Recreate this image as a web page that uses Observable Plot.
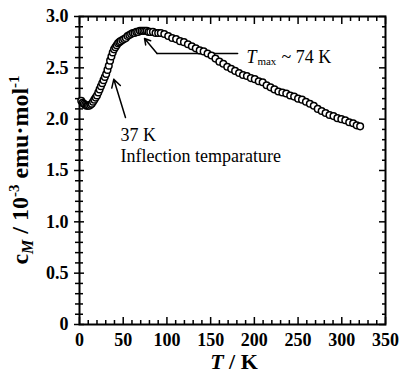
<!DOCTYPE html>
<html>
<head>
<meta charset="utf-8">
<script src="https://cdn.jsdelivr.net/npm/d3@7"></script>
<script src="https://cdn.jsdelivr.net/npm/@observablehq/plot@0.6"></script>
<style>
  html, body { margin: 0; padding: 0; background: #fff; }
  #chart svg { display: block; }
  #chart svg, #chart svg text { font-family: "Liberation Serif", Tinos, "DejaVu Serif", serif !important; }
</style>
</head>
<body>
<div id="chart"></div>
<script>
// ---- Data ----
const temperatureK = [
  2, 3.5, 5, 6.5, 8, 9.5, 11, 12.5, 14, 15.5, 17, 18.5, 20, 21.5, 23, 24.5, 26, 27.5, 29, 30.5,
  32, 33.5, 35, 36.5, 38, 39.5, 41, 42.5, 44, 45.5, 47, 49, 51, 53, 55, 57, 59, 61, 63, 65,
  67, 69, 71, 73, 75, 77, 79, 81, 84, 87, 90,
  93, 97, 101.5, 106, 110.5, 115, 119.5, 124, 128.5, 133, 137.5, 142, 146.5, 151, 155.5, 160,
  164.5, 169, 173.5, 178, 182.5, 187, 191.5, 196, 200.5, 205, 209.5, 214, 218.5, 223, 227.5,
  232, 236.5, 241, 245.5, 250, 254.5, 259, 263.5, 268, 272.5, 277, 281.5, 286, 290.5, 295,
  299.5, 304, 308.5, 313, 317, 321
];
const chiM = [
  2.18, 2.16, 2.15, 2.14, 2.13, 2.13, 2.13, 2.14, 2.15, 2.17, 2.19, 2.21, 2.23, 2.26, 2.29, 2.32, 2.35, 2.38, 2.41, 2.44,
  2.48, 2.52, 2.57, 2.61, 2.65, 2.68, 2.70, 2.72, 2.74, 2.75, 2.76, 2.77, 2.78, 2.79, 2.81, 2.82, 2.83, 2.84, 2.84, 2.85,
  2.85, 2.86, 2.86, 2.86, 2.86, 2.86, 2.85, 2.85, 2.85, 2.84, 2.84,
  2.84, 2.83, 2.81, 2.79, 2.78, 2.76, 2.75, 2.73, 2.71, 2.69, 2.67, 2.66, 2.64, 2.62, 2.59, 2.56,
  2.54, 2.51, 2.49, 2.47, 2.45, 2.43, 2.42, 2.40, 2.39, 2.37, 2.36, 2.33, 2.31, 2.29, 2.27,
  2.26, 2.25, 2.23, 2.22, 2.20, 2.19, 2.17, 2.15, 2.13, 2.10, 2.08, 2.06, 2.04, 2.03, 2.01,
  2.00, 1.99, 1.97, 1.96, 1.94, 1.93
];

const xMajorTicks = [0, 50, 100, 150, 200, 250, 300, 350];
const xMinorTicks = [10, 20, 30, 40, 60, 70, 80, 90, 110, 120, 130, 140, 160, 170, 180, 190,
                     210, 220, 230, 240, 260, 270, 280, 290, 310, 320, 330, 340];
const yMajorTicks = [0, 0.5, 1.0, 1.5, 2.0, 2.5, 3.0];
const yTickLabels = ["0", "0.5", "1.0", "1.5", "2.0", "2.5", "3.0"];
const yMinorTicks = [0.1, 0.2, 0.3, 0.4, 0.6, 0.7, 0.8, 0.9, 1.1, 1.2, 1.3, 1.4, 1.6, 1.7, 1.8, 1.9,
                     2.1, 2.2, 2.3, 2.4, 2.6, 2.7, 2.8, 2.9];

// Annotations (data coordinates)
const tmaxLeaderT = [180.8, 88.7];
const tmaxLeaderChi = [2.64, 2.64];
const tmaxArrowT = [88.7, 74.4];
const tmaxArrowChi = [2.64, 2.785];
const inflectionArrowT = [52.6, 39.2];
const inflectionArrowChi = [2.016, 2.388];
const inflectionLabels = ["37 K", "Inflection temparature"];
const inflectionLabelT = [46.9, 46.9];
const inflectionLabelChi = [1.79, 1.585];
const tmaxLabelT = [191, 203.5, 231];
const tmaxLabelChi = [2.551, 2.53, 2.551];

// ---- Build tables ----
const points = temperatureK.map((t, i) => ({T: t, chi: chiM[i]}));
const leader = tmaxLeaderT.map((t, i) => ({T: t, chi: tmaxLeaderChi[i]}));
const arrows = [
  {x1: tmaxArrowT[0], y1: tmaxArrowChi[0], x2: tmaxArrowT[1], y2: tmaxArrowChi[1]},
  {x1: inflectionArrowT[0], y1: inflectionArrowChi[0], x2: inflectionArrowT[1], y2: inflectionArrowChi[1]}
];
const inflText = inflectionLabels.map((s, i) => ({s, T: inflectionLabelT[i], chi: inflectionLabelChi[i]}));

const serif = "Liberation Serif";
const tickLabelFmt = d => yTickLabels[yMajorTicks.indexOf(d)];

const chart = Plot.plot({
  width: 399,
  height: 374,
  marginLeft: 79,
  marginRight: 14,
  marginTop: 16,
  marginBottom: 50,
  style: {fontFamily: serif, background: "white", color: "black", overflow: "visible"},
  x: {domain: [0, 350], label: null},
  y: {domain: [0, 3], label: null},
  marks: [
    // tick labels
    Plot.axisX({ticks: xMajorTicks, tickSize: 0, tickPadding: 9, fontSize: 18, fontWeight: "bold", fontFamily: serif, tickFormat: d => String(d)}),
    Plot.axisY({ticks: yMajorTicks, tickSize: 0, tickPadding: 11, fontSize: 18, fontWeight: "bold", fontFamily: serif, tickFormat: tickLabelFmt}),
    // bottom ticks (inward)
    Plot.axisX({ticks: xMajorTicks, tickSize: -7, fill: "none", strokeWidth: 1.5}),
    Plot.axisX({ticks: xMinorTicks, tickSize: -4, fill: "none", strokeWidth: 1.5}),
    // top ticks (inward)
    Plot.axisX({anchor: "top", ticks: xMajorTicks, tickSize: -7, fill: "none", strokeWidth: 1.5}),
    Plot.axisX({anchor: "top", ticks: xMinorTicks, tickSize: -4, fill: "none", strokeWidth: 1.5}),
    // left ticks (crossing)
    Plot.axisY({ticks: yMajorTicks, tickSize: 5, fill: "none", strokeWidth: 1.5}),
    Plot.axisY({ticks: yMajorTicks, tickSize: -5, fill: "none", strokeWidth: 1.5}),
    Plot.axisY({ticks: yMinorTicks, tickSize: 4, fill: "none", strokeWidth: 1.5}),
    Plot.axisY({ticks: yMinorTicks, tickSize: -4, fill: "none", strokeWidth: 1.5}),
    // right ticks (inward)
    Plot.axisY({anchor: "right", ticks: yMajorTicks, tickSize: -7, fill: "none", strokeWidth: 1.5}),
    Plot.axisY({anchor: "right", ticks: yMinorTicks, tickSize: -4, fill: "none", strokeWidth: 1.5}),
    Plot.frame({stroke: "black", strokeWidth: 2}),
    // annotation leader lines
    Plot.line(leader, {x: "T", y: "chi", stroke: "black", strokeWidth: 1.6}),
    Plot.arrow(arrows, {x1: "x1", y1: "y1", x2: "x2", y2: "y2", stroke: "black", strokeWidth: 1.5, headLength: 9}),
    // data
    Plot.dot(points, {x: "T", y: "chi", r: 3.3, stroke: "black", strokeWidth: 1.5, fill: "white"}),
    // annotation text
    Plot.text(inflText, {x: "T", y: "chi", text: "s", textAnchor: "start", lineAnchor: "bottom", fontSize: 18, fontFamily: serif, fill: "black"}),
    Plot.text(["T"], {x: tmaxLabelT[0], y: tmaxLabelChi[0], text: d => d, textAnchor: "start", lineAnchor: "bottom", fontSize: 18, fontStyle: "italic", fontFamily: serif, fill: "black"}),
    Plot.text(["max"], {x: tmaxLabelT[1], y: tmaxLabelChi[1], text: d => d, textAnchor: "start", lineAnchor: "bottom", fontSize: 11, fontFamily: serif, fill: "black"}),
    Plot.text(["~ 74 K"], {x: tmaxLabelT[2], y: tmaxLabelChi[2], text: d => d, textAnchor: "start", lineAnchor: "bottom", fontSize: 18, fontFamily: serif, fill: "black"})
  ]
});

// Axis titles with italics / sub- and superscripts
const svg = d3.select(chart);
const yTitle = svg.append("text")
  .attr("transform", "translate(28,170) rotate(-90)")
  .attr("text-anchor", "middle")
  .style("font-family", serif)
  .attr("font-weight", "bold")
  .attr("font-size", 24)
  .attr("fill", "black");
yTitle.append("tspan").text("c");
yTitle.append("tspan").attr("font-style", "italic").attr("font-size", 16).attr("dy", 5).text("M");
yTitle.append("tspan").attr("dy", -5).text(" / 10");
yTitle.append("tspan").attr("font-size", 15).attr("dy", -9).text("-3");
yTitle.append("tspan").attr("dy", 9).text(" emu\u00b7mol");
yTitle.append("tspan").attr("font-size", 15).attr("dy", -9).text("-1");

const xTitle = svg.append("text")
  .attr("x", 234)
  .attr("y", 369)
  .attr("text-anchor", "middle")
  .style("font-family", serif)
  .attr("font-weight", "bold")
  .attr("font-size", 22)
  .attr("fill", "black");
xTitle.append("tspan").attr("font-style", "italic").text("T");
xTitle.append("tspan").text(" / K");

document.getElementById("chart").appendChild(chart);
</script>
</body>
</html>
